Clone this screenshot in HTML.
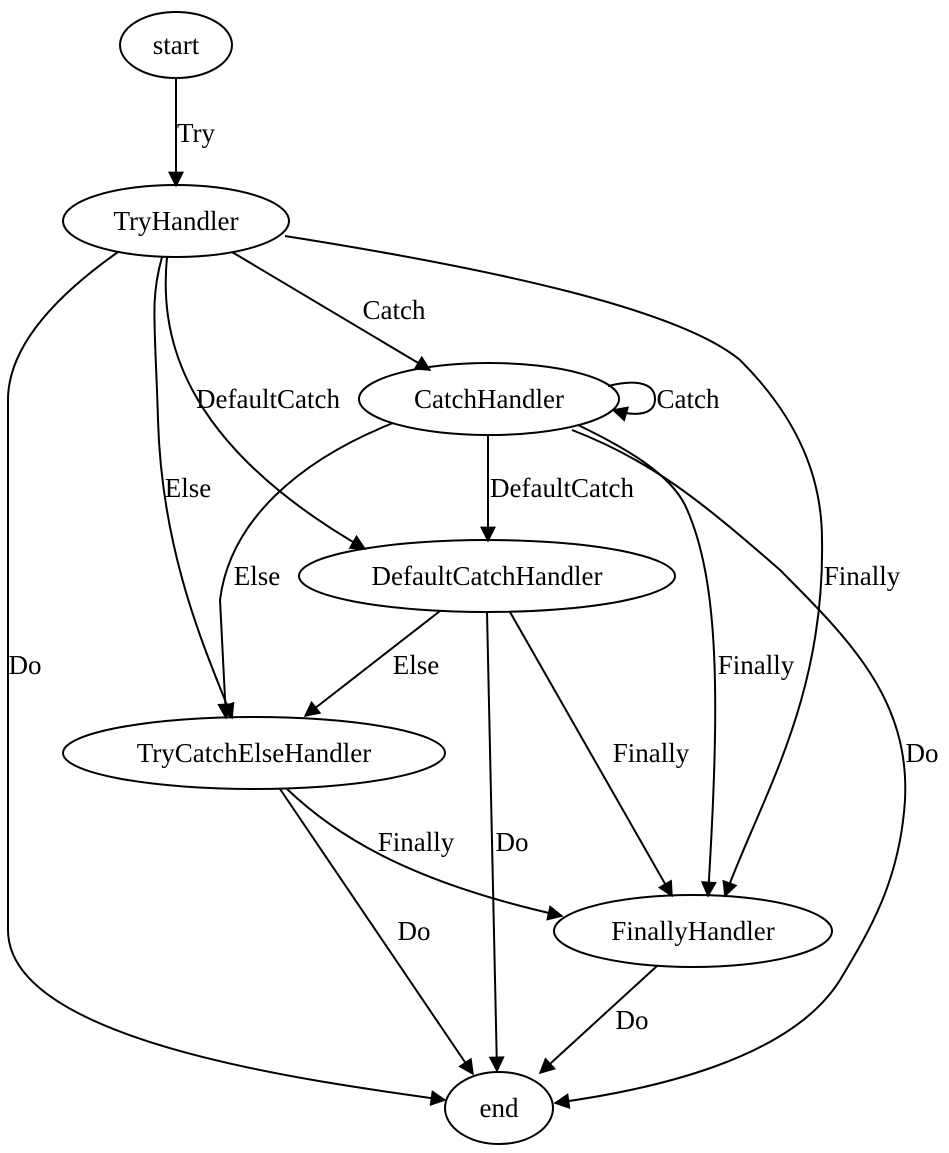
<!DOCTYPE html>
<html><head><meta charset="utf-8"><style>
html,body{margin:0;padding:0;background:#fff;}
svg{display:block;}
text{font-family:"Liberation Serif",serif;font-size:27px;fill:#000;}
</style></head><body>
<svg width="949" height="1153" viewBox="0 0 949 1153" xmlns="http://www.w3.org/2000/svg">
<defs>
<marker id="b" viewBox="0 0 10 10" refX="9" refY="5" markerWidth="20" markerHeight="16" markerUnits="userSpaceOnUse" orient="auto"><path d="M0,0 L10,5 L0,10 z" fill="#000"/></marker>
</defs>
<g fill="none" stroke="#000" stroke-width="2">
<ellipse cx="176" cy="45" rx="56" ry="33"/>
<ellipse cx="176" cy="221" rx="113" ry="36"/>
<ellipse cx="489" cy="399" rx="130" ry="36"/>
<ellipse cx="487" cy="576" rx="188" ry="36"/>
<ellipse cx="254" cy="753" rx="191" ry="36"/>
<ellipse cx="693" cy="931" rx="139" ry="36"/>
<ellipse cx="499" cy="1108" rx="54" ry="36"/>
</g>
<g fill="none" stroke="#000" stroke-width="2" marker-end="url(#b)">
<path d="M176,78 L176,186"/>
<path d="M232,252 L430,370"/>
<path d="M608,386 C640,378 655,385 655,399 C655,413 640,418 613,410"/>
<path d="M167,257 C160,330 175,440 365,549"/>
<path d="M162,257 C150,300 155,320 158,420 C162,560 210,660 232,718"/>
<path d="M118,252 C50,300 8,350 8,400 L8,930 C8,1040 300,1080 445,1100"/>
<path d="M285,236 C500,270 680,310 740,360 C800,420 822,480 822,540 C825,700 760,800 725,896"/>
<path d="M488,435 L488,541"/>
<path d="M393,423 C300,460 230,520 220,600 L226,718"/>
<path d="M578,425 C630,450 670,475 685,505 C720,580 720,700 708,896"/>
<path d="M572,430 C650,460 700,500 780,570 C850,640 910,700 905,800 C900,880 870,930 840,980 C790,1060 650,1090 555,1103"/>
<path d="M440,611 L305,716"/>
<path d="M487,612 L497,1071"/>
<path d="M510,612 L672,896"/>
<path d="M287,789 C330,830 400,880 562,916"/>
<path d="M280,789 L473,1074"/>
<path d="M657,966 L540,1073"/>
</g>
<g text-anchor="middle">
<text x="176" y="54">start</text>
<text x="176" y="230">TryHandler</text>
<text x="489" y="408">CatchHandler</text>
<text x="487" y="585">DefaultCatchHandler</text>
<text x="254" y="762">TryCatchElseHandler</text>
<text x="693" y="940">FinallyHandler</text>
<text x="499" y="1117">end</text>
<text x="196" y="142">Try</text>
<text x="394" y="319">Catch</text>
<text x="688" y="408">Catch</text>
<text x="268" y="408">DefaultCatch</text>
<text x="188" y="497">Else</text>
<text x="25" y="674">Do</text>
<text x="862" y="585">Finally</text>
<text x="562" y="497">DefaultCatch</text>
<text x="257" y="585">Else</text>
<text x="756" y="674">Finally</text>
<text x="922" y="762">Do</text>
<text x="416" y="674">Else</text>
<text x="512" y="851">Do</text>
<text x="651" y="762">Finally</text>
<text x="416" y="851">Finally</text>
<text x="414" y="940">Do</text>
<text x="632" y="1029">Do</text>
</g>
</svg>
</body></html>
